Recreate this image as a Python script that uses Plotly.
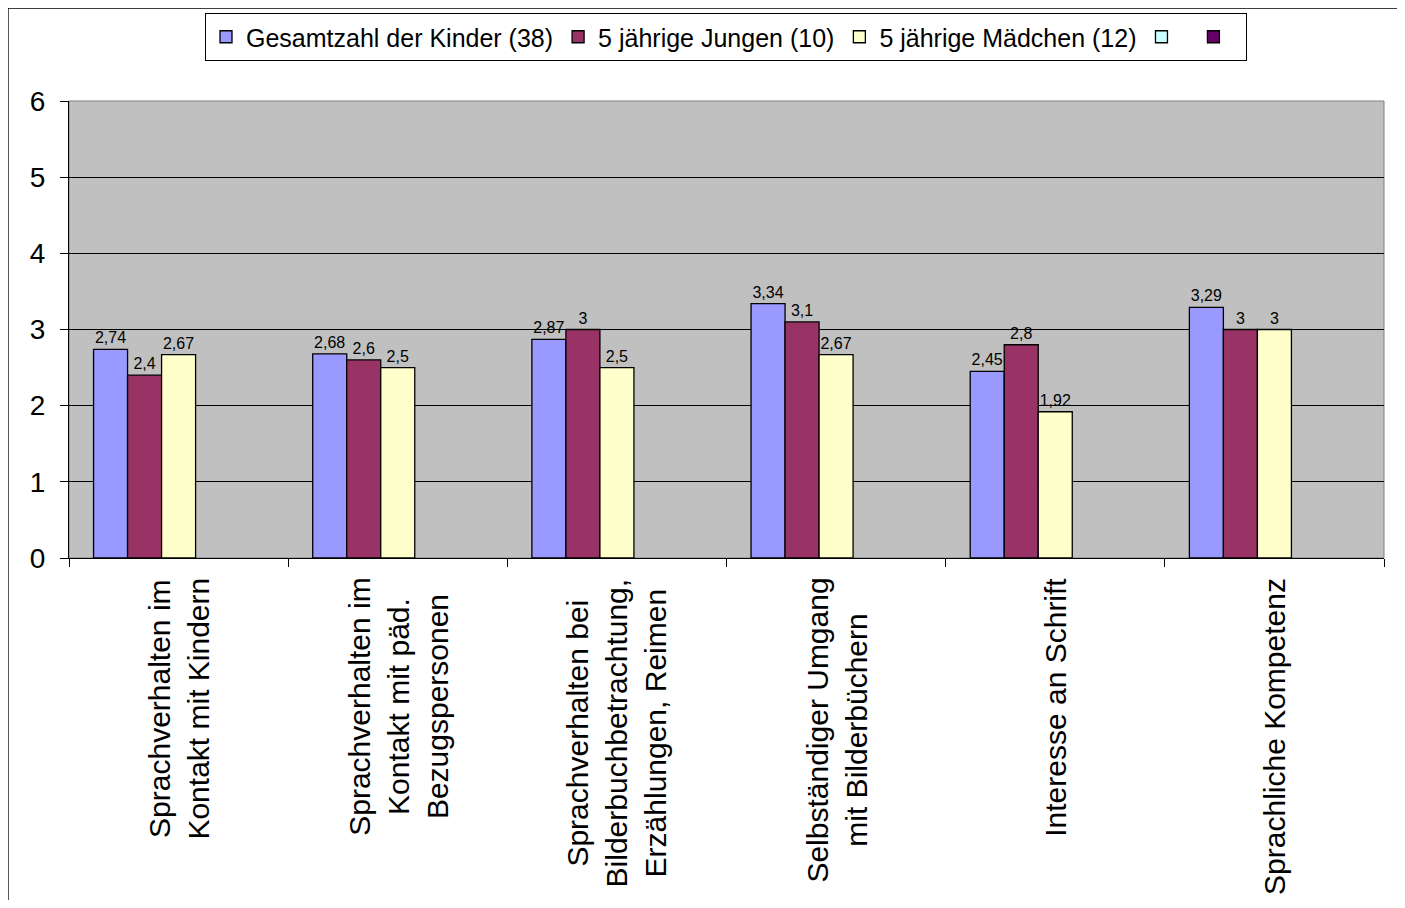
import plotly.graph_objects as go

categories = [
    "Sprachverhalten im<br>Kontakt mit Kindern",
    "Sprachverhalten im<br>Kontakt mit päd.<br>Bezugspersonen",
    "Sprachverhalten bei<br>Bilderbuchbetrachtung,<br>Erzählungen, Reimen",
    "Selbständiger Umgang<br>mit Bilderbüchern",
    "Interesse an Schrift",
    "Sprachliche Kompetenz",
]
series_names = ["Gesamtzahl der Kinder (38)", "5 jährige Jungen (10)", "5 jährige Mädchen (12)", " ", " "]
gesamt = [2.74, 2.68, 2.87, 3.34, 2.45, 3.29]
jungen = [2.4, 2.6, 3.0, 3.1, 2.8, 3.0]
maedchen = [2.67, 2.5, 2.5, 2.67, 1.92, 3.0]
empty4 = [None] * 6
empty5 = [None] * 6
colors = ["#9999FF", "#993366", "#FFFFCC", "#CCFFFF", "#660066"]
y_ticks = [0, 1, 2, 3, 4, 5, 6]

FONT = "Liberation Sans, Arial, sans-serif"

# page body has an 8px margin: plot area target 69..1384 x, 101..558 y in the window
OFF = 8
PL, PR, PT, PB = 69, 1384, 101, 558
W, H = 1389, 892
PW, PH = PR - PL, PB - PT


def fmt(v):
    if v is None:
        return ""
    return ("%g" % v).replace(".", ",")


fig = go.Figure()
for name, vals, col in zip(series_names, [gesamt, jungen, maedchen, empty4, empty5], colors):
    fig.add_trace(go.Bar(
        x=categories, y=vals, name=name,
        marker=dict(color=col, line=dict(color="black", width=1.3)),
        text=[fmt(v) for v in vals], textposition="outside",
        textfont=dict(family=FONT, size=16, color="black"),
        constraintext="none", cliponaxis=False,
    ))

for c in categories:
    fig.add_annotation(
        x=c, xref="x", y=-(576 - PB) / PH, yref="paper", yanchor="top", xanchor="center",
        text=c, textangle=-90, showarrow=False, align="center",
        font=dict(family=FONT, size=30, color="black"),
    )

# outer chart border
fig.add_shape(type="rect", xref="paper", yref="paper",
              x0=(8 - PL) / PW, x1=(1399 - PL) / PW,
              y0=(PB - 930) / PH, y1=(PB - 8) / PH,
              line=dict(color="black", width=1.3), fillcolor="rgba(0,0,0,0)", layer="below")

fig.update_layout(
    width=W, height=H,
    margin=dict(l=PL - OFF, r=W - (PR - OFF), t=PT - OFF, b=H - (PB - OFF), autoexpand=False),
    barmode="group", bargap=0.224, bargroupgap=0,
    plot_bgcolor="#C0C0C0", paper_bgcolor="white",
    font=dict(family=FONT, color="black"),
    showlegend=True,
    legend=dict(orientation="h", xref="container", yref="container",
                x=(726 - OFF) / W, xanchor="center", y=1 - (13 - OFF) / H, yanchor="top",
                bordercolor="black", borderwidth=1, bgcolor="white",
                font=dict(family=FONT, size=25, color="black"),
                tracegroupgap=0, itemclick=False, itemdoubleclick=False),
)
fig.update_xaxes(showticklabels=False, ticks="outside", tickson="boundaries", ticklen=8,
                 tickcolor="black", showline=True, linecolor="black", linewidth=1,
                 showgrid=False, mirror=False)
fig.update_yaxes(range=[0, 6], tickvals=y_ticks, ticks="outside", ticklen=8, tickcolor="black",
                 showline=True, linecolor="black", linewidth=1, showgrid=True, gridcolor="black",
                 gridwidth=1, zeroline=False, tickfont=dict(family=FONT, size=28, color="black"),
                 ticklabelstandoff=9)
# plot area border (grey top/right)
fig.add_shape(type="rect", xref="paper", yref="paper", x0=0, x1=1, y0=0, y1=1,
              line=dict(color="#808080", width=1), fillcolor="rgba(0,0,0,0)", layer="below")

fig.write_html("out.html")
